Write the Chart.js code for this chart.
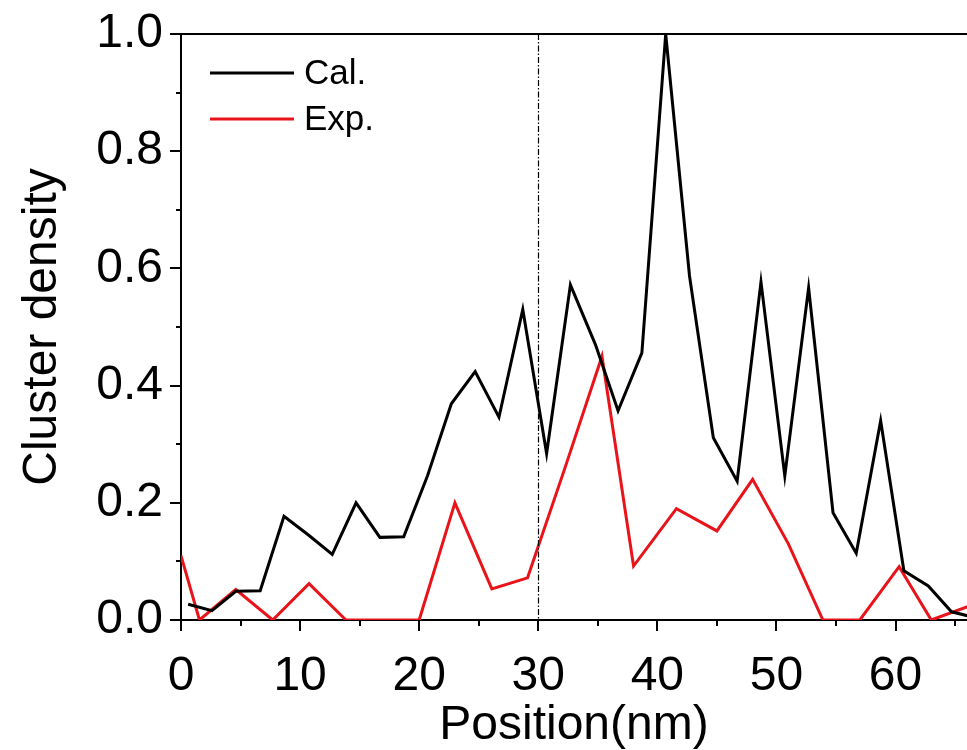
<!DOCTYPE html>
<html>
<head>
<meta charset="utf-8">
<script src="https://cdn.jsdelivr.net/npm/chart.js@4.4.1/dist/chart.umd.min.js"></script>
<style>
  html, body { margin: 0; padding: 0; background: #ffffff; }
  canvas { display: block; }
</style>
</head>
<body>
<canvas id="c" width="967" height="750"></canvas>
<script>
// ---- Data ----
const calX = [0.6, 2.6, 4.6, 6.65, 8.65, 10.7, 12.7, 14.7, 16.7, 18.7, 20.7, 22.7, 24.7, 26.7, 28.7, 30.7, 32.7, 34.8, 36.7, 38.7, 40.7, 42.7, 44.7, 46.7, 48.7, 50.7, 52.7, 54.75, 56.7, 58.75, 60.7, 62.75, 64.7, 66.7];
const calY = [0.027, 0.016, 0.049, 0.05, 0.177, 0.145, 0.112, 0.2, 0.141, 0.142, 0.246, 0.369, 0.424, 0.346, 0.53, 0.284, 0.572, 0.47, 0.357, 0.456, 1.0, 0.587, 0.311, 0.237, 0.577, 0.246, 0.567, 0.183, 0.114, 0.34, 0.084, 0.058, 0.014, 0.004];
const expX = [0, 1.55, 4.6, 7.7, 10.75, 13.85, 16.9, 20.0, 23.0, 26.1, 29.1, 32.25, 35.35, 38.0, 41.6, 45.0, 48.0, 51.0, 53.9, 57.0, 60.3, 63.0, 66.1];
const expY = [0.11, 0, 0.052, 0, 0.062, 0, 0, 0, 0.2, 0.053, 0.072, 0.26, 0.45, 0.092, 0.19, 0.152, 0.24, 0.13, 0, 0, 0.091, 0, 0.023];
const seriesNames = ['Cal.', 'Exp.'];
const xTicks = [0, 10, 20, 30, 40, 50, 60];
const xMinorTicks = [5, 15, 25, 35, 45, 55, 65];
const yTicks = [0, 0.2, 0.4, 0.6, 0.8, 1.0];
const yMinorTicks = [0.1, 0.3, 0.5, 0.7, 0.9];
const markerX = 30;
const xRange = [0, 66];
const yRange = [0, 1];

const FONT = "'Liberation Sans', Arial, sans-serif";
const BLACK = '#000000';
const RED = '#e8141a';

const toPts = (xs, ys) => xs.map((x, i) => ({ x: x, y: ys[i] }));

const extrasPlugin = {
  id: 'extras',
  afterDraw(chart) {
    const ctx = chart.ctx;
    const a = chart.chartArea;
    const xs = chart.scales.x, ys = chart.scales.y;
    ctx.save();
    // top frame line
    ctx.strokeStyle = BLACK;
    ctx.lineWidth = 2;
    ctx.beginPath();
    ctx.moveTo(a.left - 1, a.top);
    ctx.lineTo(a.right, a.top);
    ctx.stroke();
    // tick marks (outward)
    ctx.lineWidth = 2;
    const yTick = (v, len) => {
      const p = Math.round(ys.getPixelForValue(v));
      ctx.beginPath(); ctx.moveTo(a.left, p); ctx.lineTo(a.left - len, p); ctx.stroke();
    };
    const xTick = (v, len) => {
      const p = Math.round(xs.getPixelForValue(v));
      ctx.beginPath(); ctx.moveTo(p, a.bottom); ctx.lineTo(p, a.bottom + len); ctx.stroke();
    };
    yTicks.forEach(v => yTick(v, 11));
    yMinorTicks.forEach(v => yTick(v, 5));
    xTicks.forEach(v => xTick(v, 11));
    xMinorTicks.forEach(v => xTick(v, 6));
    // dashed vertical marker
    const mx = Math.round(xs.getPixelForValue(markerX)) + 0.5;
    ctx.lineWidth = 1.2;
    ctx.setLineDash([6, 2, 1.5, 2]);
    ctx.beginPath();
    ctx.moveTo(mx, a.top);
    ctx.lineTo(mx, a.bottom);
    ctx.stroke();
    ctx.setLineDash([]);
    // legend
    const colors = [BLACK, RED];
    ctx.font = '35px ' + FONT;
    ctx.textBaseline = 'middle';
    ctx.textAlign = 'left';
    seriesNames.forEach((name, i) => {
      const y = a.top + 39 + i * 46;
      ctx.strokeStyle = colors[i];
      ctx.lineWidth = 3;
      ctx.beginPath();
      ctx.moveTo(a.left + 29, y);
      ctx.lineTo(a.left + 113, y);
      ctx.stroke();
      ctx.fillStyle = BLACK;
      ctx.fillText(name, a.left + 123, y + 1);
    });
    ctx.restore();
  }
};

new Chart(document.getElementById('c'), {
  type: 'line',
  data: {
    datasets: [
      { label: seriesNames[0], data: toPts(calX, calY), borderColor: BLACK, backgroundColor: BLACK, borderWidth: 3, pointRadius: 0, tension: 0, fill: false },
      { label: seriesNames[1], data: toPts(expX, expY), borderColor: RED, backgroundColor: RED, borderWidth: 3, pointRadius: 0, tension: 0, fill: false }
    ]
  },
  options: {
    responsive: false,
    devicePixelRatio: 1,
    animation: false,
    layout: { padding: { top: 34, right: 0, left: 0, bottom: 0 } },
    plugins: { legend: { display: false }, tooltip: { enabled: false } },
    scales: {
      x: {
        type: 'linear',
        position: 'bottom',
        min: xRange[0], max: xRange[1],
        grid: { display: false },
        border: { display: true, color: BLACK, width: 2 },
        afterBuildTicks: s => { s.ticks = xTicks.map(v => ({ value: v })); },
        afterFit: s => { s.height = 130; s.paddingLeft = 0; s.paddingRight = 0; },
        ticks: { color: BLACK, font: { family: FONT, size: 48, lineHeight: 1.2 }, padding: 20, maxRotation: 0, autoSkip: false, callback: v => String(v) },
        title: { display: true, text: 'Position(nm)', color: BLACK, font: { family: FONT, size: 48, lineHeight: 1.0 }, padding: { top: 0, bottom: 0 } }
      },
      y: {
        type: 'linear',
        position: 'left',
        min: yRange[0], max: yRange[1],
        grid: { display: false },
        border: { display: true, color: BLACK, width: 2 },
        afterBuildTicks: s => { s.ticks = yTicks.map(v => ({ value: v })); },
        afterFit: s => { s.width = 181; s.paddingTop = 0; s.paddingBottom = 0; },
        ticks: { color: BLACK, font: { family: FONT, size: 48, lineHeight: 1.2 }, padding: 10, callback: v => Number(v).toFixed(1) },
        title: { display: true, text: 'Cluster density', color: BLACK, font: { family: FONT, size: 48, lineHeight: 1.2 }, padding: { top: 14, bottom: 0 } }
      }
    }
  },
  plugins: [extrasPlugin]
});
</script>
</body>
</html>
